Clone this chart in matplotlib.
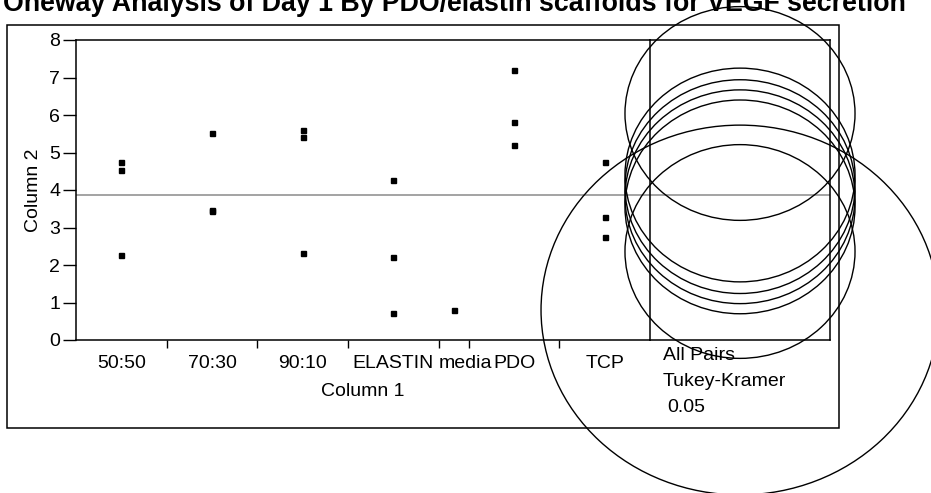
"""
Oneway analysis (JMP style): Day 1 VEGF secretion by scaffold, with
Tukey-Kramer comparison circles.
"""
import matplotlib
matplotlib.use("Agg")
import matplotlib.pyplot as plt
import matplotlib.transforms as mtransforms
from matplotlib.patches import Ellipse, Rectangle
import numpy as np

plt.rcParams["font.family"] = ["Liberation Sans", "DejaVu Sans"]

# --------------------------------------------------------------------------- #
# data
# --------------------------------------------------------------------------- #
groups = ["50:50", "70:30", "90:10", "ELASTIN", "media", "PDO", "TCP"]
vals_5050 = [4.76, 4.53, 2.27]
vals_7030 = [5.51, 3.47, 3.45]
vals_9010 = [5.60, 5.42, 2.31]
vals_elastin = [4.27, 2.22, 0.71]
vals_media = [0.80]
vals_pdo = [7.20, 5.82, 5.20]
vals_tcp = [4.76, 3.29, 2.76]
group_values = [vals_5050, vals_7030, vals_9010, vals_elastin,
                vals_media, vals_pdo, vals_tcp]

circle_centers = [3.82, 4.09, 4.40, 2.36, 0.80, 6.04, 3.55]
circle_radii = [2.85, 2.85, 2.85, 2.85, 4.93, 2.85, 2.85]
grand_mean = 3.875

title = "Oneway Analysis of Day 1 By PDO/elastin scaffolds for VEGF secretion"

# --------------------------------------------------------------------------- #
# layout helpers (pixels -> figure fraction)
# --------------------------------------------------------------------------- #
W, H = 931, 493


def fx(x):
    return x / W


def fy(y):
    return 1 - y / H


fig = plt.figure(figsize=(W / 100, H / 100), dpi=100)

# outer frame
fig.patches.append(Rectangle((fx(7), fy(428)), (839 - 7) / W, (428 - 25) / H,
                             transform=fig.transFigure, fill=False,
                             edgecolor="black", linewidth=1.1))

ax = fig.add_axes([fx(76), fy(340), (650 - 76) / W, 300 / H])
axc = fig.add_axes([fx(650), fy(340), (830 - 650) / W, 300 / H])

FS = 14

# ---- scatter panel -------------------------------------------------------- #
counts = np.array([len(v) for v in group_values])
edges = np.concatenate([[0], np.cumsum(counts)])
centers = (edges[:-1] + edges[1:]) / 2

for c, vals in zip(centers, group_values):
    ax.plot([c] * len(vals), vals, linestyle="none", marker="s",
            markersize=3.6, color="black")

ax.axhline(grand_mean, color="#8a8a8a", linewidth=1.1)
ax.set_xlim(edges[0], edges[-1])
ax.set_ylim(0, 8)
ax.set_yticks(range(0, 9))
ax.tick_params(axis="y", length=9.4, width=1, pad=2, labelsize=FS)
ax.set_xticks(edges[1:-1])
ax.tick_params(axis="x", length=5.5, width=1, labelbottom=False)
ax.spines["right"].set_visible(False)
for s in ["left", "top", "bottom"]:
    ax.spines[s].set_linewidth(1.1)

trans = mtransforms.blended_transform_factory(ax.transData, ax.transAxes)
ylab = -(363 - 340) / 300
for i, (name, c) in enumerate(zip(groups, centers)):
    if name == "media":
        ax.text(edges[i], ylab, name, transform=trans, ha="left",
                va="center", fontsize=FS)
    else:
        ax.text(c, ylab, name, transform=trans, ha="center",
                va="center", fontsize=FS)

ax.set_ylabel("Column 2", fontsize=FS, labelpad=5)
fig.text(fx(363), fy(392), "Column 1", ha="center", va="center", fontsize=FS)

# ---- comparison circles --------------------------------------------------- #
axc.set_xlim(-2.23, 2.23)
axc.set_ylim(0, 8)
axc.set_xticks([])
axc.set_yticks([])
for s in axc.spines.values():
    s.set_linewidth(1.1)
axc.axhline(grand_mean, color="#8a8a8a", linewidth=1.1)
for m, r in zip(circle_centers, circle_radii):
    axc.add_patch(Ellipse((0, m), 2 * r, 2 * r, fill=False,
                          edgecolor="black", linewidth=1.0, clip_on=False,
                          zorder=5))

fig.text(fx(663), fy(356), "All Pairs", ha="left", va="center", fontsize=FS)
fig.text(fx(663), fy(382), "Tukey-Kramer", ha="left", va="center",
         fontsize=FS)
fig.text(fx(667), fy(408), "0.05", ha="left", va="center", fontsize=FS)

# title, cut off at top as in the original export
fig.text(fx(3), fy(11), title, ha="left", va="baseline", fontsize=19.3,
         fontweight="bold")

fig.savefig("out.png", dpi=100)
